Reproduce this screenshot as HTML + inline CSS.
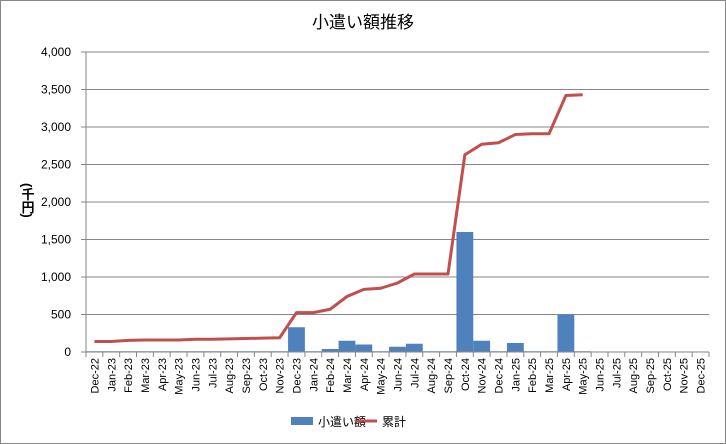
<!DOCTYPE html>
<html><head><meta charset="utf-8"><style>
body{margin:0;background:#fff;}
svg{display:block;font-family:"Liberation Sans","Noto Sans CJK JP",sans-serif;}
</style></head><body>
<svg width="726" height="444" viewBox="0 0 726 444">
<rect x="0.5" y="0.5" width="725" height="443" fill="#fff" stroke="#868686"/>
<text x="363" y="28" text-anchor="middle" font-size="17" fill="#000">小遣い額推移</text>
<text x="27" y="183" font-size="13" font-weight="bold" style="writing-mode:vertical-rl">(千円)</text>
<g id="grid"></g><g id="bars"></g><g id="line"></g><g id="axes"></g>
<g>
<rect x="291" y="417" width="22" height="8" fill="#4f81bd"/>
<text x="318" y="426" font-size="12">小遣い額</text>
<line x1="355" y1="421" x2="377" y2="421" stroke="#c0504d" stroke-width="3"/>
<text x="382" y="426" font-size="12">累計</text>
</g>
</svg>
<script>
const categories=["Dec-22","Jan-23","Feb-23","Mar-23","Apr-23","May-23","Jun-23","Jul-23","Aug-23","Sep-23","Oct-23","Nov-23","Dec-23","Jan-24","Feb-24","Mar-24","Apr-24","May-24","Jun-24","Jul-24","Aug-24","Sep-24","Oct-24","Nov-24","Dec-24","Jan-25","Feb-25","Mar-25","Apr-25","May-25","Jun-25","Jul-25","Aug-25","Sep-25","Oct-25","Nov-25","Dec-25"];
const allowance=[10,10,10,10,10,10,10,10,10,10,10,10,330,10,40,150,100,10,70,110,10,10,1600,150,10,120,10,10,500,10,null,null,null,null,null,null,null];
const cumulative=[140,140,155,160,160,160,170,170,175,180,185,190,525,525,570,740,835,850,920,1040,1040,1040,2630,2770,2790,2900,2910,2910,3420,3430,null,null,null,null,null,null,null];
const yTicks=[0,500,1000,1500,2000,2500,3000,3500,4000];
const yTickLabels=["0","500","1,000","1,500","2,000","2,500","3,000","3,500","4,000"];
const NS="http://www.w3.org/2000/svg";
const X0=86,X1=709,Y0=352,Y1=52,YMAX=4000;
const cw=(X1-X0)/categories.length;
const xs=i=>X0+cw*i, xc=i=>X0+cw*(i+0.5), ys=v=>Y0-(v/YMAX)*(Y0-Y1);
function mk(t,a,p){const e=document.createElementNS(NS,t);for(const k in a)e.setAttribute(k,a[k]);p.appendChild(e);return e;}
const grid=document.getElementById('grid'),bars=document.getElementById('bars'),line=document.getElementById('line'),axes=document.getElementById('axes');
yTicks.forEach((v,i)=>{
 const g=mk('line',{x1:X0-5,x2:X1,y1:ys(v),y2:ys(v),stroke:'#868686','stroke-width':1},grid);
 
 
 const t=mk('text',{x:71,y:ys(v)+4,'text-anchor':'end','font-size':'12'},axes);
 t.textContent=yTickLabels[i];
 
 
});
allowance.forEach((v,i)=>{if(v==null)return;
 const r=mk('rect',{x:xs(i),y:ys(v),width:cw,height:Y0-ys(v),fill:'#4f81bd'},bars);
 
 
});
const pts=cumulative.map((v,i)=>v==null?null:xc(i)+','+ys(v)).filter(Boolean).join(' ');
const pl=mk('polyline',{points:pts,fill:'none',stroke:'#c0504d','stroke-width':3,'stroke-linejoin':'round'},line);


const ax=mk('line',{x1:X0,x2:X0,y1:Y1,y2:Y0,stroke:'#868686'},axes);


const bx=mk('line',{x1:X0,x2:X1,y1:Y0,y2:Y0,stroke:'#868686'},axes);


for(let i=0;i<=categories.length;i++){
 const tk=mk('line',{x1:xs(i),x2:xs(i),y1:Y0,y2:Y0+5,stroke:'#868686'},axes);
 
 
}
categories.forEach((c,i)=>{
 const t=mk('text',{x:0,y:0,'text-anchor':'end','font-size':'11',transform:`translate(${xc(i)+4},${Y0+6}) rotate(-90)`},axes);
 t.textContent=c;
 
 
});
</script>
</body></html>
